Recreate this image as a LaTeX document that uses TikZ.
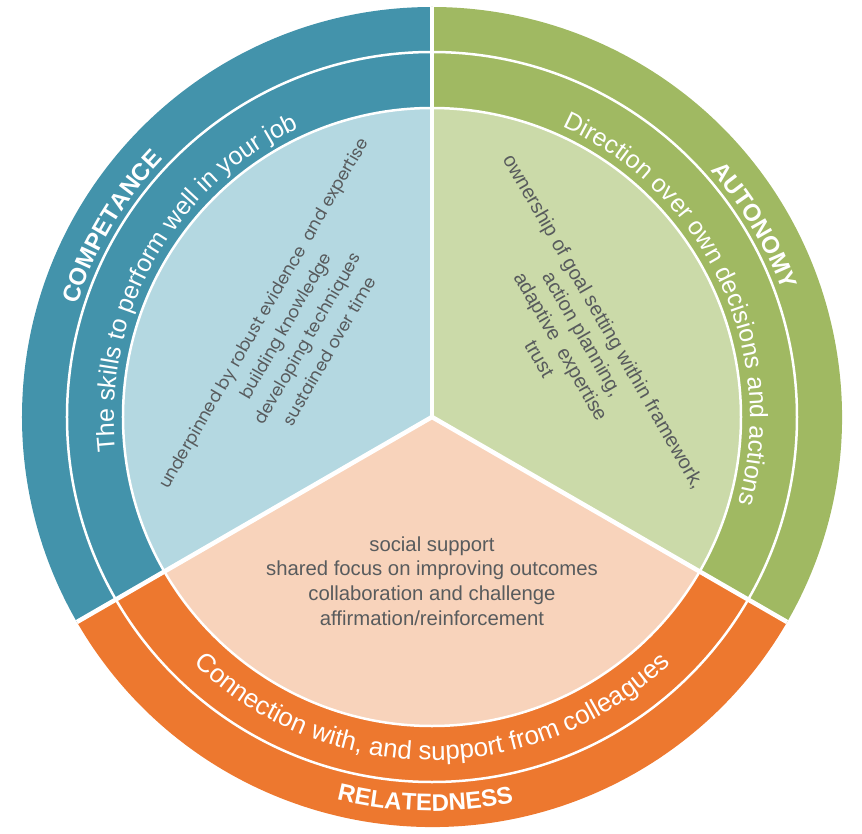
\documentclass[tikz,border=0pt]{standalone}
\usepackage{fontspec}
\setmainfont{Liberation Sans}
\newfontfamily\poppfont{Poppins}
\usetikzlibrary{decorations.text}
\definecolor{compD}{HTML}{4393AB}
\definecolor{compL}{HTML}{B4D8E1}
\definecolor{autoD}{HTML}{A0B962}
\definecolor{autoL}{HTML}{CBDAA9}
\definecolor{relD}{HTML}{ED782F}
\definecolor{relL}{HTML}{F8D3BB}
\definecolor{txtG}{HTML}{585B5D}
\tikzset{
  ringline/.style={white, line width=2.5pt},
  divline/.style={white, line width=4.5pt},
  inner text/.style={align=center, text=txtG, inner sep=0pt},
}
\newcommand{\arctext}[5]{% center angle, radius, cw(1)/ccw(-1), font, text
  \path[decorate, decoration={text along path, text align=center, text color=white,
     text={|#4|#5}}]
     (#1+#3*60:#2) arc[start angle={#1+#3*60}, end angle={#1-#3*60}, radius=#2];
}
\begin{document}
\begin{tikzpicture}[x=1pt,y=1pt]
\useasboundingbox (-432,-416) rectangle (430,417);
\coordinate (c) at (0,0);
% outer sectors
\fill[compD] (c) -- (90:410) arc[start angle=90, end angle=210, radius=410] -- cycle;
\fill[autoD] (c) -- (-30:410) arc[start angle=-30, end angle=90, radius=410] -- cycle;
\fill[relD] (c) -- (210:410) arc[start angle=210, end angle=330, radius=410] -- cycle;
% inner sectors
\fill[compL] (c) -- (90:309) arc[start angle=90, end angle=210, radius=309] -- cycle;
\fill[autoL] (c) -- (-30:309) arc[start angle=-30, end angle=90, radius=309] -- cycle;
\fill[relL] (c) -- (210:309) arc[start angle=210, end angle=330, radius=309] -- cycle;
% rings
\draw[ringline] (c) circle[radius=365];
\draw[ringline] (c) circle[radius=309];
% dividers
\coordinate (d1) at (90:410);
\coordinate (d2) at (210:410);
\coordinate (d3) at (330:410);
\draw[divline] (c) -- (d1);
\draw[divline] (c) -- (d2);
\draw[divline] (c) -- (d3);
% titles
\arctext{149.3}{372}{1}{\fontsize{24}{24}\selectfont\bfseries}{COMPETANCE}
\arctext{30.7}{372}{1}{\fontsize{24}{24}\selectfont\bfseries}{AUTONOMY}
\arctext{269}{394}{-1}{\fontsize{24}{24}\selectfont\bfseries}{RELATEDNESS}
% subtitles
\arctext{150.5}{318}{1}{\fontsize{25}{25}\selectfont}{The skills to perform well in your job}
\arctext{25}{318}{1}{\fontsize{25}{25}\selectfont}{Direction over own decisions and actions}
\arctext{270}{343}{-1}{\fontsize{26}{26}\selectfont}{Connection with, and support from colleagues}
% inner texts
\node[inner text, rotate=60, font=\poppfont\fontsize{17}{25.4}\selectfont] (compin) at (-136,85)
  {underpinned by robust evidence~ and expertise\\building knowledge\\developing techniques\\sustained over time};
\node[inner text, rotate=-60, font=\fontsize{20}{24.8}\selectfont] (autoin) at (140,77)
  {ownership of goal setting within framework,\\action planning,\\adaptive~ expertise\\trust};
\node[inner text, font=\fontsize{20.3}{24.7}\selectfont] (relin) at (0,-164)
  {social support\\shared focus on improving outcomes\\collaboration and challenge\\affirmation/reinforcement};
\end{tikzpicture}
\end{document}
